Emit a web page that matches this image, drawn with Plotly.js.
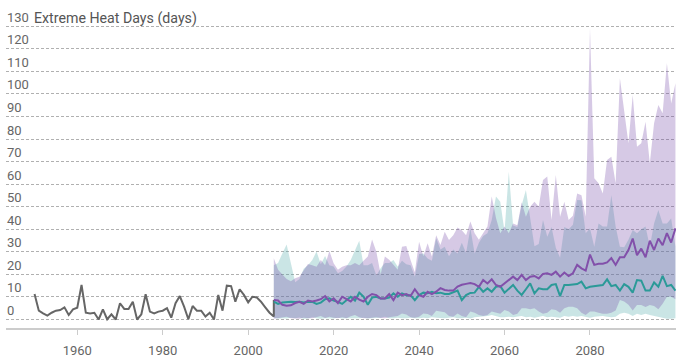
<!DOCTYPE html>
<html>
<head>
<meta charset="utf-8">
<script src="https://cdn.plot.ly/plotly-3.0.1.min.js"></script>
<style>html,body{margin:0;padding:0;background:#fff;}#chart{width:691px;height:357px;}</style>
</head>
<body>
<div id="chart"></div>
<script>
// Historical observations (last year repeated to join the projection start)
const histYears = [1950,1951,1952,1953,1954,1955,1956,1957,1958,1959,1960,1961,1962,1963,1964,1965,1966,1967,1968,1969,1970,1971,1972,1973,1974,1975,1976,1977,1978,1979,1980,1981,1982,1983,1984,1985,1986,1987,1988,1989,1990,1991,1992,1993,1994,1995,1996,1997,1998,1999,2000,2001,2002,2003,2004,2005,2006,2006];
const histValues = [11.3,3.9,2.7,1.7,3.0,3.9,4.2,5.4,2.0,4.5,5.2,15.3,3.0,2.7,3.0,0,4.5,0.1,2.3,0,7.2,4.7,4.7,7.9,0,2.3,11.2,3.5,2.7,3.5,3.9,5.0,0.8,7.2,10.4,5.7,0.1,6.0,3.9,3.9,1.3,3.0,0,10.9,3.9,15.0,14.8,7.9,13.4,10.9,7.6,10.1,9.8,7.9,5.4,3.0,1.3,8.6];

// Projection years
const projYears = [2006,2007,2008,2009,2010,2011,2012,2013,2014,2015,2016,2017,2018,2019,2020,2021,2022,2023,2024,2025,2026,2027,2028,2029,2030,2031,2032,2033,2034,2035,2036,2037,2038,2039,2040,2041,2042,2043,2044,2045,2046,2047,2048,2049,2050,2051,2052,2053,2054,2055,2056,2057,2058,2059,2060,2061,2062,2063,2064,2065,2066,2067,2068,2069,2070,2071,2072,2073,2074,2075,2076,2077,2078,2079,2080,2081,2082,2083,2084,2085,2086,2087,2088,2089,2090,2091,2092,2093,2094,2095,2096,2097,2098,2099,2100];

// Higher emissions (purple)
const highMean = [8.6,8.4,6.5,6.1,6.3,7.3,7.8,6.9,8.4,8.0,8.4,9.0,10.4,8.0,9.4,7.3,10.1,9.0,8.0,10.1,8.8,8.0,10.1,11.3,10.8,9.3,9.3,11.3,8.6,11.9,10.8,11.3,10.4,13.4,10.8,10.1,12.3,11.3,12.3,13.9,13.1,12.8,12.8,14.6,15.4,15.8,16.2,15.7,14.5,17.5,16.0,17.8,15.3,14.5,16.0,17.5,19.0,17.5,19.8,17.5,19.0,19.3,18.2,20.2,20.5,19.8,21.2,19.0,20.8,19.3,20.5,24.2,22.7,21.7,28.8,24.2,24.7,24.7,25.3,27.2,24.2,27.6,27.6,30.8,35.9,28.5,31.4,27.6,34.9,30.8,35.9,32.9,38.3,34.1,40.4];
const highMax = [27.1,22,20,18,17,18.3,19,22,24.6,24.1,23.4,26.4,24.1,30.4,24.9,22,23.4,24.1,24,25,24.1,26,27.9,35.5,30,20,27.9,26.5,24.4,22,32.3,32.6,26.4,21,34.5,28,33.8,27.9,37.4,33,38.9,35.2,37.4,40.8,39.6,37.4,43.4,38.2,35.3,38.2,41.2,54.5,45,38.2,41.2,38.2,42.6,41.8,52,45.6,50,52.2,50,61.9,63.4,44.1,64.1,45.6,52.2,44.1,46,55.9,55.1,45.6,129,62.6,60.4,55.9,70.7,72.2,60.4,106.9,91.4,78.1,99.5,76.6,78.1,87.7,69.3,87,95.1,91.4,113.6,95.8,104.7];
const highMin = [0.3,0.5,1.0,1.2,0.6,0.4,0.3,0.8,0.5,0.6,1.0,1.5,0.7,1.2,0.8,0.5,1.0,0.6,1.4,2.0,1.0,0.5,0.6,0.8,1.0,0.7,0.5,1.0,1.2,1.5,2.7,2.2,1.0,0.8,1.2,2.7,2.4,1.5,3.9,3.5,3.2,1.5,1.2,2.7,1.5,1.0,3.5,3.0,2.0,1.5,2.0,3.5,3.0,2.5,4.2,3.5,2.0,2.5,5.0,5.0,4.5,5.0,3.5,2.5,3.0,4.5,4.2,3.0,5.0,5.7,5.7,5.0,3.0,2.0,3.5,3.5,3.0,2.5,2.5,3.0,4.0,8.6,8.0,6.5,4.0,6.4,6.4,5.5,6.4,6.0,4.5,7.0,10.1,10.1,9.0];

// Lower emissions (teal)
const lowMean = [7.9,6.9,7.5,7.8,7.9,7.8,7.9,7.5,7.9,7.8,6.9,7.5,9.0,9.4,8.4,7.8,6.9,8.5,10.1,8.4,11.9,10.1,6.5,9.7,10.1,9.3,9.3,9.7,11.6,10.1,11.6,10.8,10.8,8.6,10.8,11.9,11.6,12.3,11.6,11.9,11.3,11.3,11.9,12.8,8.6,10.8,11.8,11.9,14.5,12.3,13.8,12.3,14.5,14.8,11.9,13.8,15.3,12.8,10.9,13.4,16.0,11.6,13.8,13.4,13.4,15.3,15.7,10.4,15.3,15.3,15.5,15.7,16.8,13.8,14.5,14.8,14.8,15.3,17.8,14.8,15.3,12.8,15.7,14.5,11.9,17.5,17.2,12.8,12.8,16.4,14.5,19.3,14.8,15.3,12.8];
const lowMax = [24,25,29.3,33.3,24.9,16.5,18,22.5,24,26.4,30.1,24.5,28.1,24.1,23.5,20.5,21.5,23.5,26.4,30.8,34.9,24.1,24,25,19.5,22.7,25,25,26.4,23.4,26,24.5,24,19,29,29.3,27,26,36,31,32.3,28,31,29.3,34,29.5,40.4,29.3,34,37,38.2,44.1,54.5,52.2,39,65.5,41.7,41,50.7,57.4,44,32.5,33.5,44.1,36.7,41,31.8,27.4,41,40,42,53,52.9,38.2,40.4,32.3,42.6,41.2,41.2,55.1,41.2,32.3,32,35.3,39.7,38.2,40,41.2,32.3,42.6,48.5,42.6,42.6,44.8,32.3];
const lowMin = [0.8,0.3,0.5,0.4,0.8,0.6,0.9,0.3,0.4,1.0,0.5,0.3,0.6,0.5,0.4,0.8,0.4,0.5,0.5,0.4,0.6,0.8,0.4,0.5,0.6,0.8,1.2,0.5,0.6,0.8,0.6,0.5,0.8,0.5,0.6,0.8,0.5,1.0,0.8,0.6,0.5,0.8,1.0,0.6,0.5,0.8,0.4,1.0,1.2,1.2,1.5,2.0,1.5,1.0,1.0,1.2,1.0,1.2,1.5,1.0,1.2,0.8,1.2,1.5,1.0,1.2,1.0,0.8,1.5,1.2,1.5,1.2,1.5,1.0,0.8,1.2,1.5,1.5,1.2,1.0,1.2,2.5,3.0,2.5,1.5,2.5,2.0,2.5,2.0,1.5,1.0,0.5,0.3,0.3,0.5];

const yTicks = [0,10,20,30,40,50,60,70,80,90,100,110,120,130];
const xTicks = [1960,1980,2000,2020,2040,2060,2080];
const yTitle = 'Extreme Heat Days (days)';

const tealFill = 'rgba(80,170,170,0.30)';
const purpleFill = 'rgba(115,70,165,0.29)';
const tealLine = '#2b9a98';
const purpleLine = '#8250aa';
const greyLine = '#666666';

const traces = [
  {x: projYears, y: lowMin, type: 'scatter', mode: 'lines', line: {width: 0}, hoverinfo: 'skip', showlegend: false},
  {x: projYears, y: lowMax, type: 'scatter', mode: 'lines', line: {width: 0}, fill: 'tonexty', fillcolor: tealFill, hoverinfo: 'skip', showlegend: false},
  {x: projYears, y: highMin, type: 'scatter', mode: 'lines', line: {width: 0}, hoverinfo: 'skip', showlegend: false},
  {x: projYears, y: highMax, type: 'scatter', mode: 'lines', line: {width: 0}, fill: 'tonexty', fillcolor: purpleFill, hoverinfo: 'skip', showlegend: false},
  {x: histYears, y: histValues, type: 'scatter', mode: 'lines', line: {color: greyLine, width: 2}, showlegend: false},
  {x: projYears, y: lowMean, type: 'scatter', mode: 'lines', line: {color: tealLine, width: 2}, showlegend: false},
  {x: projYears, y: highMean, type: 'scatter', mode: 'lines', line: {color: purpleLine, width: 2}, showlegend: false}
];

const layout = {
  width: 691, height: 357,
  margin: {l: 6, r: 15, t: 8, b: 29, pad: 0},
  paper_bgcolor: '#ffffff', plot_bgcolor: '#ffffff',
  font: {family: 'Roboto, sans-serif', size: 13, color: '#666666'},
  showlegend: false,
  hovermode: false,
  title: {text: yTitle, x: 34/691, xanchor: 'left', xref: 'container', y: 1 - 18/357, yanchor: 'middle', yref: 'container', font: {family: 'Roboto, sans-serif', size: 14.2, color: '#555555'}},
  xaxis: {
    range: [1943.32, 2100.13], tickvals: xTicks, ticktext: xTicks.map(String),
    showgrid: false, zeroline: false, showline: true, linecolor: '#cccccc', linewidth: 2,
    ticks: 'outside', ticklen: 5, tickcolor: '#cccccc', tickwidth: 1,
    ticklabelstandoff: 4,
    tickfont: {family: 'Roboto, sans-serif', size: 13, color: '#666666'}
  },
  yaxis: {
    range: [-3.77, 138.1], tickvals: yTicks, ticktext: yTicks.map(String),
    showgrid: true, gridcolor: '#b0b0b0', gridwidth: 1, griddash: '3px,2px',
    zeroline: false, showline: false, ticks: '',
    ticklabelposition: 'inside top', ticklabelstandoff: -2,
    tickfont: {family: 'Roboto, sans-serif', size: 13, color: '#666666'}
  }
};

Plotly.newPlot('chart', traces, layout, {displayModeBar: false, staticPlot: true});
</script>
</body>
</html>
